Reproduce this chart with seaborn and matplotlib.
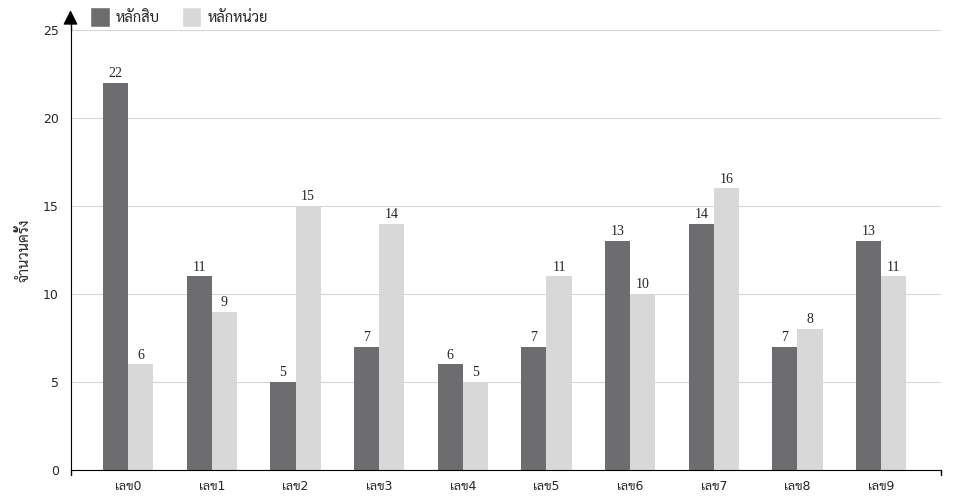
import matplotlib
matplotlib.use("Agg")
import matplotlib.pyplot as plt
import seaborn as sns
import pandas as pd
from matplotlib.patches import Patch

categories = ["เลข0", "เลข1", "เลข2", "เลข3", "เลข4", "เลข5", "เลข6", "เลข7", "เลข8", "เลข9"]
tens = [22, 11, 5, 7, 6, 7, 13, 14, 7, 13]
units = [6, 9, 15, 14, 5, 11, 10, 16, 8, 11]
series = ["หลักสิบ", "หลักหน่วย"]
colors = ["#6d6d6f", "#d8d8d8"]
y_ticks = [0, 5, 10, 15, 20, 25]

df = pd.DataFrame({
    "cat": categories * 2,
    "val": tens + units,
    "series": [series[0]] * len(categories) + [series[1]] * len(categories),
})

sns.set_style("white")
# Thai glyphs come from Sarabun, the rest from DejaVu
plt.rcParams["font.family"] = ["DejaVu Sans", "Sarabun"]

fig = plt.figure(figsize=(9.6, 5), dpi=100)
ax = fig.add_axes([70.5 / 960, 30 / 500, 870 / 960, 440 / 500])

sns.barplot(data=df, x="cat", y="val", hue="series", palette=colors,
            width=0.6, gap=0, ax=ax, legend=False, saturation=1, linewidth=0)

# value labels
for cont in ax.containers:
    ax.bar_label(cont, padding=2, fontsize=10, family="Liberation Serif")

ax.set_xlim(-0.69, 9.71)
ax.set_ylim(0, 25)
ax.set_yticks(y_ticks)
ax.yaxis.grid(True, color="#d6d6d6", linewidth=0.8)
ax.set_axisbelow(True)
ax.set_xlabel("")
ax.set_ylabel("จำนวนครั้ง", fontsize=10.5, labelpad=8)
ax.tick_params(axis="both", labelsize=9, length=5, width=1, color="black", direction="out")
ax.tick_params(axis="x", pad=2)

for s in ["top", "right"]:
    ax.spines[s].set_visible(False)
ax.spines["left"].set_color("black")
ax.spines["bottom"].set_color("black")

# y axis goes up past 25 and ends in an arrow
ax.plot([0, 0], [1.0, 1.03], transform=ax.transAxes, color="black", lw=1, clip_on=False)
ax.annotate("", xy=(0, 1.045), xytext=(0, 1.02), xycoords="axes fraction",
            arrowprops=dict(arrowstyle="-|>", color="black", lw=1, mutation_scale=22,
                            shrinkA=0, shrinkB=0))
# end ticks of the x axis
ax.plot([1, 1], [0, -0.0114], transform=ax.transAxes, color="black", lw=1, clip_on=False)
ax.plot([0, 0], [0, -0.0114], transform=ax.transAxes, color="black", lw=1, clip_on=False)

handles = [Patch(facecolor=c, label=s) for c, s in zip(colors, series)]
fig.legend(handles=handles, loc="upper left", bbox_to_anchor=(83 / 960, 1.0), ncol=2,
           frameon=False, fontsize=10.5, handlelength=1.35, handleheight=1.7,
           handletextpad=0.4, columnspacing=1.5, borderaxespad=0.1)

fig.savefig("out.png", dpi=100)
